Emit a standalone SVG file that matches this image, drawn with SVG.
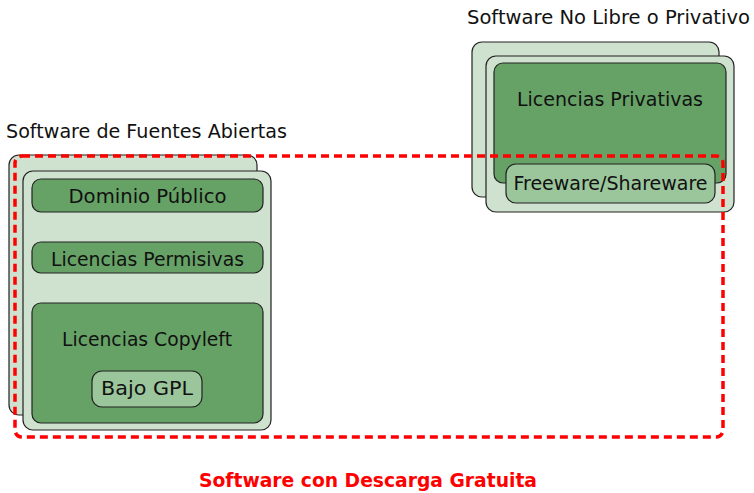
<svg xmlns="http://www.w3.org/2000/svg" width="754" height="493" viewBox="0 0 754 493">
<style>
text{font-family:"DejaVu Sans","Liberation Sans",sans-serif;font-size:19px;fill:#111}
.lt{fill:#cfe1cf;stroke:#222;stroke-width:1.2}
.dk{fill:#66a266;stroke:#222;stroke-width:1.2}
.md{fill:#9bc59b;stroke:#222;stroke-width:1.2}
.c{text-anchor:middle}
</style>
<rect width="754" height="493" fill="#fff"/>
<g id="open">
<text x="6" y="138" textLength="281" lengthAdjust="spacingAndGlyphs">Software de Fuentes Abiertas</text>
<rect class="lt" x="9" y="155" width="248" height="260" rx="10"/>
<rect class="lt" x="23" y="171" width="248" height="259" rx="10"/>
</g>
<g id="dominio">
<rect class="dk" x="32" y="179" width="231" height="33" rx="9"/>
<text class="c" x="147.5" y="203" textLength="158" lengthAdjust="spacingAndGlyphs">Dominio Público</text>
</g>
<g id="permisivas">
<rect class="dk" x="32" y="242" width="231" height="31" rx="9"/>
<text class="c" x="147.5" y="266" textLength="193" lengthAdjust="spacingAndGlyphs">Licencias Permisivas</text>
</g>
<g id="copyleft">
<rect class="dk" x="32" y="303" width="231" height="120" rx="9"/>
<text class="c" x="147" y="346" textLength="170" lengthAdjust="spacingAndGlyphs">Licencias Copyleft</text>
</g>
<g id="gpl">
<rect class="md" x="92" y="371" width="110" height="36" rx="10"/>
<text class="c" x="147" y="395" textLength="92" lengthAdjust="spacingAndGlyphs">Bajo GPL</text>
</g>
<g id="privativo">
<text x="467" y="24" textLength="283" lengthAdjust="spacingAndGlyphs">Software No Libre o Privativo</text>
<rect class="lt" x="472" y="42" width="247" height="155" rx="10"/>
<rect class="lt" x="486" y="56" width="248" height="156" rx="10"/>
</g>
<g id="privativas">
<rect class="dk" x="494" y="63" width="232" height="120" rx="9"/>
<text class="c" x="610" y="106" textLength="186" lengthAdjust="spacingAndGlyphs">Licencias Privativas</text>
</g>
<g id="freeware">
<rect class="md" x="506" y="164" width="209" height="39" rx="10"/>
<text class="c" x="610.5" y="190" textLength="194" lengthAdjust="spacingAndGlyphs">Freeware/Shareware</text>
</g>
<g id="connectors">
<rect id="gratuita" x="15" y="156" width="708" height="281" rx="7" fill="none" stroke="#ff0000" stroke-width="3.5" stroke-dasharray="8 5"/>
</g>
<text class="c" x="368" y="487" textLength="338" lengthAdjust="spacingAndGlyphs" style="fill:#ff0000;font-weight:bold">Software con Descarga Gratuita</text>
</svg>
